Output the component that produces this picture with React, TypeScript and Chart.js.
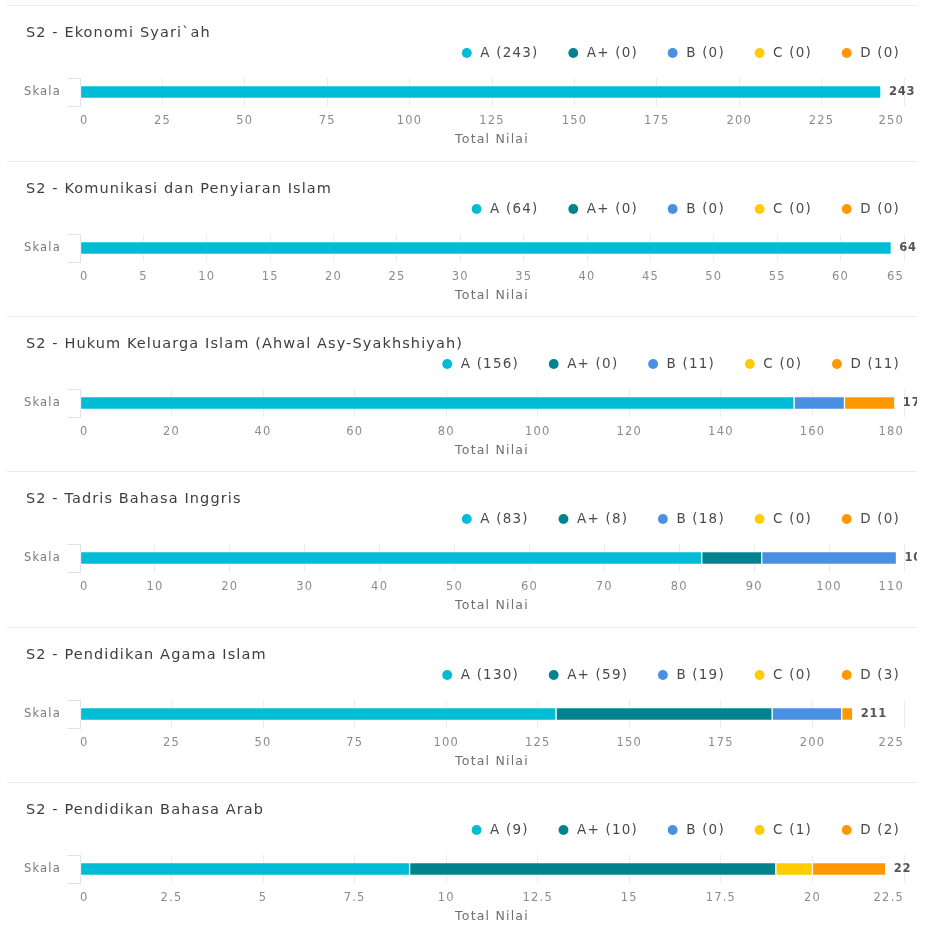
import React, { useEffect, useRef } from "react";
import { Chart, registerables } from "chart.js";

Chart.register(...registerables);

const PROGRAMS = [
  "S2 - Ekonomi Syari`ah",
  "S2 - Komunikasi dan Penyiaran Islam",
  "S2 - Hukum Keluarga Islam (Ahwal Asy-Syakhshiyah)",
  "S2 - Tadris Bahasa Inggris",
  "S2 - Pendidikan Agama Islam",
  "S2 - Pendidikan Bahasa Arab",
];
const CATEGORY = ["Skala"];
const SERIES = ["A", "A+", "B", "C", "D"];
const COLORS = ["#00BCD4", "#00838F", "#4A90E2", "#FFCC00", "#FF9800"];
const VALUES_A = [243, 64, 156, 83, 130, 9];
const VALUES_APLUS = [0, 0, 0, 8, 59, 10];
const VALUES_B = [0, 0, 11, 18, 19, 0];
const VALUES_C = [0, 0, 0, 0, 0, 1];
const VALUES_D = [0, 0, 11, 0, 3, 2];
const AXIS_MAX = [250, 65, 180, 110, 225, 22.5];
const AXIS_STEP = [25, 5, 20, 10, 25, 2.5];
const AXIS_TITLE = "Total Nilai";

const SEPARATORS = [5, 161, 316, 471, 627, 782];
const FONT = '"DejaVu Sans", sans-serif';

const spacingPlugin = {
  id: "spacing",
  beforeUpdate(chart: any) {
    chart.ctx.letterSpacing = "1.2px";
  },
  beforeDraw(chart: any) {
    chart.ctx.letterSpacing = "1.2px";
  },
};

const totalPlugin = {
  id: "totals",
  afterDatasetsDraw(chart: any) {
    const { ctx, scales } = chart;
    const xs = scales.x;
    const ys = scales.y;
    const total = chart.data.datasets.reduce(
      (s: number, d: any) => s + (Number(d.data[0]) || 0),
      0
    );
    const x = xs.getPixelForValue(total) + 8;
    const y = ys.getPixelForValue(0);
    ctx.save();
    ctx.beginPath();
    ctx.rect(0, 0, 910, chart.height);
    ctx.clip();
    ctx.letterSpacing = "0.8px";
    ctx.font = `bold 11.5px ${FONT}`;
    ctx.fillStyle = "#555";
    ctx.textAlign = "left";
    ctx.textBaseline = "middle";
    ctx.fillText(String(total), x, y);
    ctx.restore();
  },
};

function Panel({ index }: { index: number }) {
  const ref = useRef<HTMLCanvasElement | null>(null);
  const seriesValues = [VALUES_A, VALUES_APLUS, VALUES_B, VALUES_C, VALUES_D];

  useEffect(() => {
    if (!ref.current) return;
    const datasets = SERIES.map((name, i) => ({
      label: `${name} (${seriesValues[i][index]})`,
      data: [seriesValues[i][index]],
      backgroundColor: COLORS[i],
      borderColor: "rgba(255,255,255,0.5)",
      borderWidth: 1,
      borderSkipped: false,
      barThickness: 13,
    }));
    const chart = new Chart(ref.current, {
      type: "bar",
      data: { labels: CATEGORY, datasets },
      plugins: [spacingPlugin, totalPlugin],
      options: {
        indexAxis: "y",
        animation: false,
        responsive: false,
        maintainAspectRatio: false,
        layout: { padding: { top: 12.25, bottom: 8.5, left: 0, right: 0 } },
        plugins: {
          title: { display: false },
          tooltip: { enabled: false },
          legend: {
            display: true,
            position: "top",
            align: "end",
            labels: {
              usePointStyle: true,
              pointStyle: "circle",
              boxHeight: 7,
              boxWidth: 13.5,
              padding: 28,
              color: "#4a4a4a",
              font: { family: FONT, size: 13.5 },
              generateLabels: (c: any) =>
                c.data.datasets.map((d: any, i: number) => ({
                  text: d.label,
                  fillStyle: d.backgroundColor,
                  strokeStyle: d.backgroundColor,
                  lineWidth: 0,
                  pointStyle: "circle",
                  hidden: false,
                  datasetIndex: i,
                  fontColor: "#4a4a4a",
                })),
            },
          },
        },
        scales: {
          x: {
            type: "linear",
            stacked: true,
            min: 0,
            max: AXIS_MAX[index],
            position: "bottom",
            grid: { color: "#ececec", drawTicks: false },
            border: { display: false },
            ticks: {
              stepSize: AXIS_STEP[index],
              align: "inner",
              maxRotation: 0,
              autoSkip: false,
              padding: 8.5,
              color: "#8c8c8c",
              font: { family: FONT, size: 11.5 },
            },
            title: {
              display: true,
              text: AXIS_TITLE,
              color: "#707070",
              font: { family: FONT, size: 12.5 },
              padding: { top: -4.3, bottom: 4 },
            },
          },
          xTop: {
            type: "linear",
            position: "top",
            display: true,
            grid: { display: false },
            ticks: { display: false },
            border: { display: false },
            afterFit: (s: any) => {
              s.height = 8.25;
            },
          },
          y: {
            type: "category",
            stacked: true,
            grid: {
              drawOnChartArea: false,
              drawTicks: true,
              tickLength: 13,
              color: "#dde3ec",
            },
            border: { display: true, color: "#dde3ec" },
            ticks: {
              padding: 6,
              color: "#7a7a7a",
              font: { family: FONT, size: 11.5 },
            },
            afterFit: (s: any) => {
              s.width = 73;
            },
          },
          yRight: {
            type: "linear",
            position: "right",
            display: true,
            grid: { display: false },
            ticks: { display: false },
            border: { display: false },
            afterFit: (s: any) => {
              s.width = 24;
            },
          },
        },
      } as any,
    });
    return () => chart.destroy();
  }, [index]);

  const sep = SEPARATORS[index];
  return (
    <>
      <div
        style={{
          position: "absolute",
          left: 7,
          top: sep,
          width: 910,
          height: 1,
          background: "#ebebeb",
        }}
      />
      <canvas
        ref={ref}
        width={921}
        height={154}
        style={{ position: "absolute", left: 7, top: sep + 1, width: 921, height: 154 }}
      />
      <div
        style={{
          position: "absolute",
          left: 26,
          top: sep + 19,
          font: `14.5px ${FONT}`,
          lineHeight: "17px",
          letterSpacing: "1.1px",
          color: "#3d3d3d",
          whiteSpace: "nowrap",
        }}
      >
        {PROGRAMS[index]}
      </div>
    </>
  );
}

export default function App() {
  return (
    <div
      style={{
        position: "absolute",
        left: 0,
        top: 0,
        width: 930,
        height: 937,
        overflow: "hidden",
        background: "#fff",
      }}
    >
      {PROGRAMS.map((_, i) => (
        <Panel key={i} index={i} />
      ))}
    </div>
  );
}
